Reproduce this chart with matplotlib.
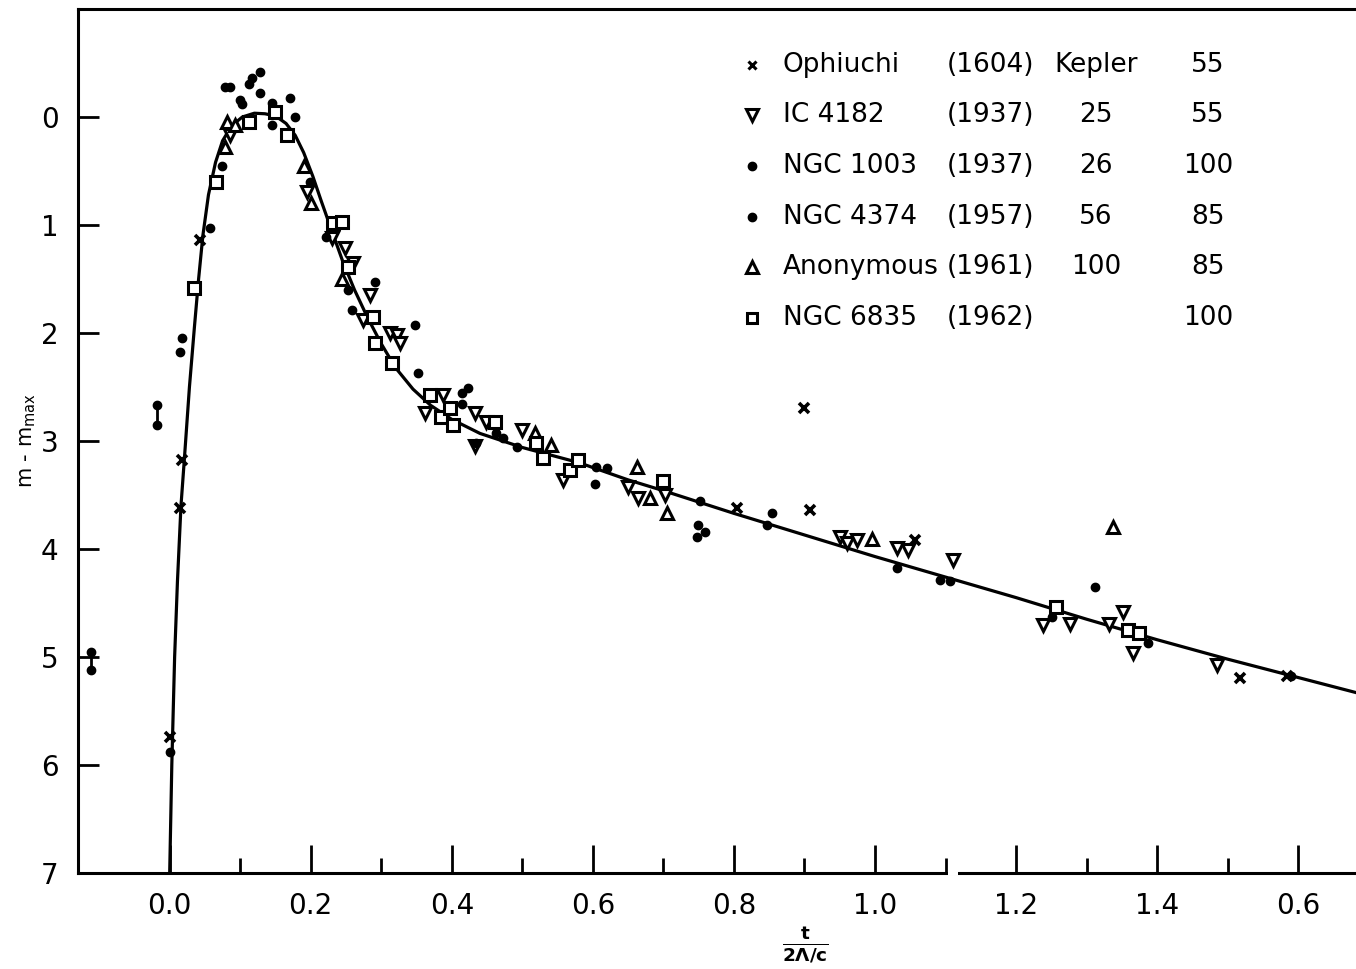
import numpy as np
import matplotlib
matplotlib.use("Agg")
import matplotlib.pyplot as plt

# --- data (x = t / (2 Lambda / c), y = m - m_max) ---
curve_x = [0.0, 0.003, 0.007, 0.011, 0.016, 0.021, 0.028, 0.035, 0.041, 0.047, 0.055,
           0.065, 0.075, 0.088, 0.103, 0.12, 0.135, 0.15, 0.165, 0.178, 0.19, 0.203,
           0.215, 0.228, 0.245, 0.262, 0.28, 0.30, 0.32, 0.345, 0.37, 0.40, 0.44,
           0.50, 0.58, 0.65, 0.70, 0.80, 0.90, 1.00, 1.10, 1.20, 1.30, 1.40, 1.50,
           1.60, 1.70]
curve_y = [7.0, 6.0, 5.0, 4.3, 3.6, 3.15, 2.5, 1.95, 1.5, 1.1, 0.72,
           0.42, 0.22, 0.08, 0.0, -0.035, -0.03, -0.01, 0.06, 0.17, 0.33, 0.55,
           0.78, 1.02, 1.33, 1.6, 1.85, 2.1, 2.32, 2.52, 2.67, 2.8, 2.93,
           3.06, 3.2, 3.36, 3.46, 3.67, 3.87, 4.07, 4.26, 4.45, 4.65, 4.84, 5.02,
           5.19, 5.36]

ophiuchi_x = [0.0, 0.014, 0.018, 0.043, 0.804, 0.90, 0.908, 1.057, 1.518, 1.584]
ophiuchi_y = [5.74, 3.62, 3.18, 1.14, 3.62, 2.69, 3.64, 3.92, 5.19, 5.18]

ic4182_x = [0.085, 0.194, 0.23, 0.248, 0.26, 0.284, 0.274, 0.312, 0.322, 0.326, 0.362,
            0.388, 0.433, 0.449, 0.433, 0.499, 0.558, 0.65, 0.664, 0.702, 0.95, 0.96,
            0.974, 1.031, 1.047, 1.11, 1.238, 1.277, 1.332, 1.352, 1.366, 1.485]
ic4182_y = [0.17, 0.69, 1.12, 1.21, 1.35, 1.65, 1.88, 2.0, 2.02, 2.09, 2.74,
            2.57, 2.74, 2.82, 3.05, 2.90, 3.36, 3.43, 3.53, 3.50, 3.89, 3.94,
            3.92, 3.99, 4.01, 4.10, 4.70, 4.69, 4.69, 4.58, 4.96, 5.07]

ngc1003_x = [0.078, 0.086, 0.113, 0.116, 0.128, 0.128, 0.099, 0.102, 0.145, 0.17,
             0.177, 0.145, 0.291, 0.348, 0.352, 0.423, 0.414, 0.414, 0.603, 0.749,
             0.759, 0.747, 1.312, -0.111, -0.018, 0.018]
ngc1003_y = [-0.28, -0.28, -0.31, -0.36, -0.42, -0.22, -0.16, -0.12, -0.13, -0.18,
             0.0, 0.07, 1.53, 1.93, 2.37, 2.51, 2.56, 2.66, 3.40, 3.78,
             3.84, 3.89, 4.35, 4.95, 2.67, 2.05]

ngc4374_x = [-0.111, -0.018, 0.014, 0.0, 0.057, 0.074, 0.199, 0.222, 0.253, 0.258,
             0.435, 0.463, 0.473, 0.492, 0.605, 0.62, 0.752, 0.854, 0.847, 1.031,
             1.092, 1.106, 1.251, 1.387, 1.59]
ngc4374_y = [5.12, 2.85, 2.18, 5.88, 1.03, 0.45, 0.60, 1.11, 1.60, 1.79,
             3.02, 2.93, 2.97, 3.06, 3.24, 3.25, 3.56, 3.67, 3.78, 4.18,
             4.29, 4.30, 4.63, 4.87, 5.18]

anonymous_x = [0.081, 0.092, 0.078, 0.19, 0.20, 0.245, 0.518, 0.541, 0.662, 0.681,
               0.705, 0.996, 1.338]
anonymous_y = [0.05, 0.07, 0.28, 0.45, 0.8, 1.5, 2.93, 3.04, 3.24, 3.53,
               3.67, 3.91, 3.80]

ngc6835_x = [0.149, 0.113, 0.066, 0.166, 0.231, 0.244, 0.253, 0.288, 0.291, 0.315,
             0.369, 0.385, 0.397, 0.402, 0.461, 0.52, 0.53, 0.567, 0.579, 0.70,
             1.257, 1.359, 1.375, 0.035]
ngc6835_y = [-0.05, 0.05, 0.60, 0.17, 0.98, 0.97, 1.39, 1.85, 2.09, 2.28,
             2.57, 2.78, 2.69, 2.85, 2.82, 3.02, 3.16, 3.27, 3.18, 3.37,
             4.54, 4.75, 4.78, 1.58]

# pairs of early dots joined by a short bar
pair_x = [-0.111, -0.018]
pair_top = [4.95, 2.67]
pair_bot = [5.12, 2.85]

tick_vals = [0.0, 0.2, 0.4, 0.6, 0.8, 1.0, 1.2, 1.4, 1.6]
tick_text = ["0.0", "0.2", "0.4", "0.6", "0.8", "1.0", "1.2", "1.4", "0.6"]

legend_names = ["Ophiuchi", "IC 4182", "NGC 1003", "NGC 4374", "Anonymous", "NGC 6835"]
legend_years = ["(1604)", "(1937)", "(1937)", "(1957)", "(1961)", "(1962)"]
legend_col3 = ["Kepler", "25", "26", "56", "100", ""]
legend_col4 = ["55", "55", "100", "85", "85", "100"]

plt.rcParams['font.family'] = ['DejaVu Sans']

W, H = 1356, 969
fig = plt.figure(figsize=(W / 100, H / 100), dpi=100)
ax = fig.add_axes([78 / W, 1 - 873 / H, 1 - 78 / W, (873 - 9) / H])

ax.plot(curve_x, curve_y, color='black', lw=2.3, zorder=3)

ms_style = dict(ls='none', color='black', zorder=4, clip_on=False)
ax.plot(ophiuchi_x, ophiuchi_y, marker='x', ms=7, mew=2.6, **ms_style)
ax.plot(ic4182_x, ic4182_y, marker='v', ms=9, mfc='white', mec='black', mew=2.2, **ms_style)
ax.plot(ngc1003_x, ngc1003_y, marker='o', ms=6, **ms_style)
ax.plot(ngc4374_x, ngc4374_y, marker='o', ms=6, **ms_style)
ax.plot(anonymous_x, anonymous_y, marker='^', ms=9, mfc='white', mec='black', mew=2.2, **ms_style)
ax.plot(ngc6835_x, ngc6835_y, marker='s', ms=8, mfc='white', mec='black', mew=2.2, **ms_style)
ax.vlines(pair_x, pair_top, pair_bot, color='black', lw=2, zorder=4)

ax.set_xlim(-0.13, 1.682)
ax.set_ylim(7, -1.0)

ax.set_xticks(tick_vals)
ax.set_xticklabels(tick_text)
ax.set_xticks([0.1, 0.3, 0.5, 0.7, 0.9, 1.1, 1.3, 1.5], minor=True)
ax.set_yticks(range(0, 8))
ax.tick_params(axis='x', which='major', direction='in', length=20, width=2,
               labelsize=20, pad=14)
ax.tick_params(axis='x', which='minor', direction='in', length=11, width=2)
ax.tick_params(axis='y', which='major', direction='in', length=15, width=2,
               labelsize=20, pad=14)

for side in ['left', 'bottom', 'top']:
    ax.spines[side].set_linewidth(2.2)
ax.spines['right'].set_visible(False)

# small break in the bottom axis line, as drawn in the original
ax.plot([1.104, 1.118], [7, 7], color='white', lw=4, solid_capstyle='butt',
        zorder=5, clip_on=False)

fig.text(28 / W, 1 - 440 / H, r'm - m$_{\mathrm{max}}$', rotation=90,
         fontsize=15, ha='center', va='center')
fig.text(805 / W, 1 - 945 / H, r'$\frac{\mathbf{t}}{\mathbf{2\Lambda/c}}$',
         fontsize=19, ha='center', va='center')

# table-like legend in the upper right
row_py = [65, 115, 166, 217, 267, 318]
leg_markers = [
    dict(marker='x', ms=6, mew=2.2, color='black'),
    dict(marker='v', ms=8, mfc='white', mec='black', mew=2.2, color='black'),
    dict(marker='o', ms=6, color='black'),
    dict(marker='o', ms=6, color='black'),
    dict(marker='^', ms=8, mfc='white', mec='black', mew=2.2, color='black'),
    dict(marker='s', ms=7, mfc='white', mec='black', mew=2.2, color='black'),
]
for i, py in enumerate(row_py):
    fy = 1 - py / H
    fig.add_artist(plt.Line2D([752 / W], [fy], transform=fig.transFigure,
                              ls='none', **leg_markers[i]))
    fig.text(783 / W, fy, legend_names[i], fontsize=19, ha='left', va='center')
    fig.text(947 / W, fy, legend_years[i], fontsize=19, ha='left', va='center')
    fig.text(1096 / W, fy, legend_col3[i], fontsize=19, ha='center', va='center')
    fig.text(1208 / W, fy, legend_col4[i], fontsize=19, ha='center', va='center')

fig.savefig("out.png", dpi=100)
